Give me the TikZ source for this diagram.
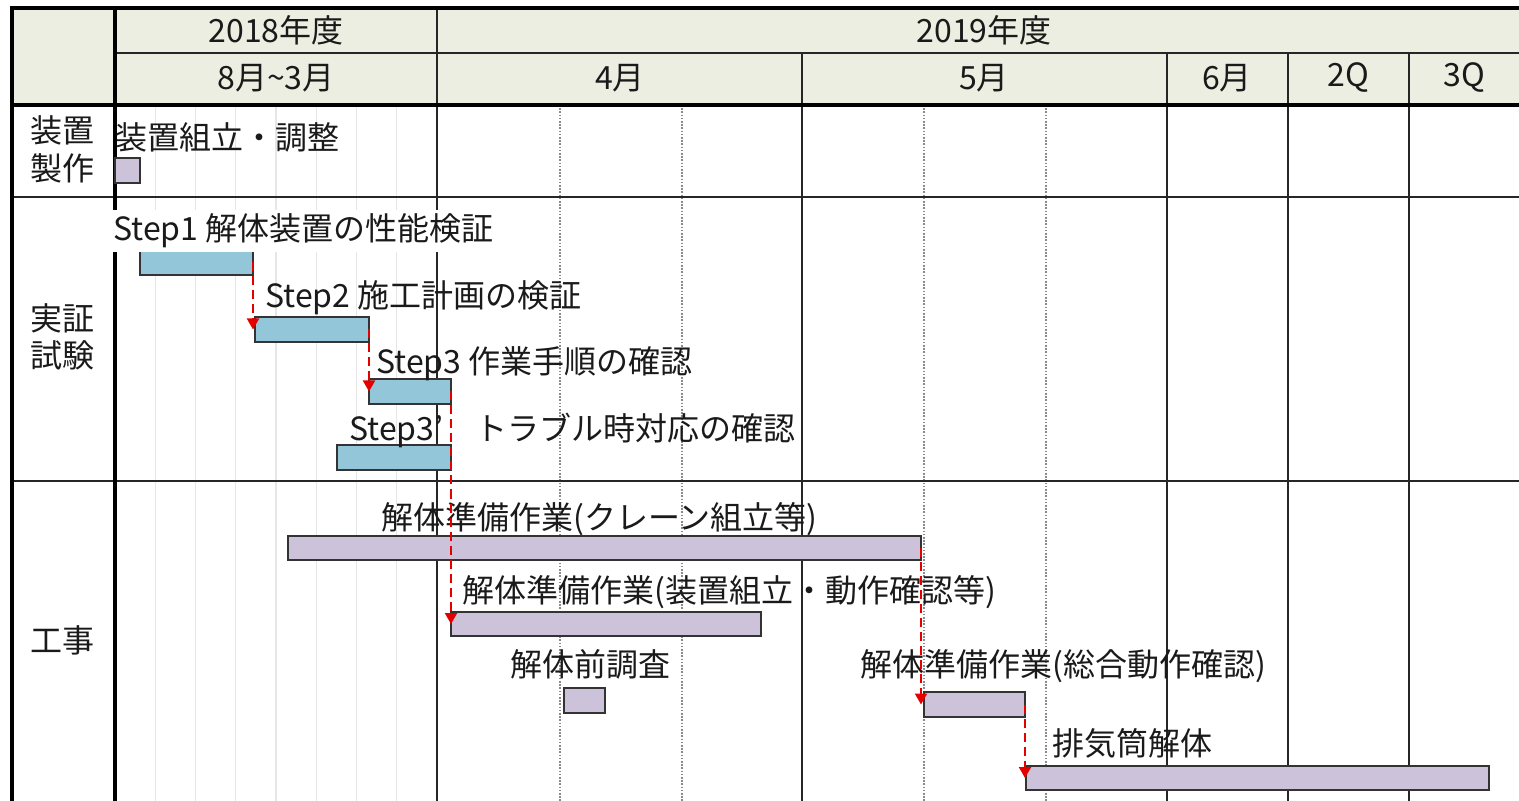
\documentclass[tikz,border=0pt]{standalone}
\usepackage{fontspec}
\setmainfont{Noto Sans CJK JP}
\usetikzlibrary{arrows.meta}
\definecolor{hdrfill}{HTML}{EBEEE0}
\definecolor{lav}{HTML}{CCC3DB}
\definecolor{aqua}{HTML}{92C6D8}
\definecolor{faint}{HTML}{E6E6E6}
\definecolor{dotg}{HTML}{8A8A8A}
\definecolor{txt}{HTML}{1A1A1A}
\newcommand{\ganttbar}[6]{%
  \node[#6, anchor=north west, minimum width={(#4-#2)*0.5pt}, minimum height={(#5-#3)*0.5pt}] (#1) at (#2,#3) {};}
\begin{document}
\begin{tikzpicture}[x=0.5pt,y=-0.5pt,
  thick line/.style={line width=2pt, black},
  thin line/.style={line width=1pt, black!85},
  lbl/.style={inner sep=0pt, text=txt, font=\fontsize{16}{19}\selectfont},
  barbox/.style={draw=black!80, line width=0.9pt, inner sep=0pt, outer sep=0pt},
  barP/.style={barbox, fill=lav},
  barB/.style={barbox, fill=aqua},
  dep/.style={red!90!black, line width=1pt, dash pattern=on 4.5pt off 2.5pt,
    -{Triangle[width=6pt,length=5.5pt]}}]
\useasboundingbox (0,0) rectangle (1519,801);
% header fills
\fill[hdrfill] (12,8) rectangle (1519,105);
% faint lines in 2018 column
\foreach \i in {1,...,7} {
  \draw[faint, line width=0.6pt] ({115+\i*40.25},105) -- ({115+\i*40.25},801);
}
% dotted week lines
\foreach \xx in {560,682,924,1046} {
  \draw[dotg, line width=0.7pt, dash pattern=on 0.8pt off 0.8pt] (\xx,105) -- (\xx,801);
}
% grid
\draw[thin line] (115,53) -- (1519,53);
\draw[thin line] (12,197) -- (1519,197);
\draw[thin line] (12,481) -- (1519,481);
\draw[thin line] (437,8) -- (437,801);
\foreach \xx in {802,1167,1288,1409} { \draw[thin line] (\xx,53) -- (\xx,801); }
\draw[thick line] (10,8) -- (1519,8);
\draw[thick line] (12,6) -- (12,801);
\draw[thick line] (115,6) -- (115,801);
\draw[thick line] (12,105) -- (1519,105);
% header text
\node[lbl] (y2018) at (276,30) {2018年度};
\node[lbl] (y2019) at (984,30) {2019年度};
\node[lbl] (m83) at (276,78) {8月\textasciitilde 3月};
\node[lbl] (m4) at (620,78) {4月};
\node[lbl] (m5) at (984,78) {5月};
\node[lbl] (m6) at (1227,78) {6月};
\node[lbl] (q2) at (1348,78) {2Q};
\node[lbl] (q3) at (1464,78) {3Q};
% row labels
\node[lbl] (r1a) at (62,130) {装置};
\node[lbl] (r1b) at (62,168) {製作};
\node[lbl] (r2a) at (62,318) {実証};
\node[lbl] (r2b) at (62,355) {試験};
\node[lbl] (r3) at (62,640) {工事};
% bars
\ganttbar{b0}{115}{158}{140}{183}{barP}
\ganttbar{s1}{140}{250}{253}{275}{barB}
\ganttbar{s2}{255}{317}{369}{342}{barB}
\ganttbar{s3}{369}{379}{451}{404}{barB}
\ganttbar{s3b}{337}{445}{451}{470}{barB}
\ganttbar{k1}{288}{536}{921}{560}{barP}
\ganttbar{k2}{451}{612}{761}{636}{barP}
\ganttbar{k3}{564}{688}{605}{713}{barP}
\ganttbar{k4}{924}{692}{1025}{717}{barP}
\ganttbar{k5}{1026}{766}{1489}{790}{barP}
% labels
\node[lbl, anchor=west] (l0) at (115,137) {装置組立・調整};
\node[lbl, anchor=west, fill=white, inner ysep=2pt] (l1) at (113,231) {Step1 解体装置の性能検証};
\node[lbl, anchor=west] (l2) at (265,298) {Step2 施工計画の検証};
\node[lbl, anchor=west] (l3) at (376,364) {Step3 作業手順の確認};
\node[lbl, anchor=west] (l3b) at (349,430) {Step3’　トラブル時対応の確認};
\node[lbl, anchor=west] (lk1) at (381,519) {解体準備作業(クレーン組立等)};
\node[lbl, anchor=west] (lk2) at (462,592) {解体準備作業(装置組立・動作確認等)};
\node[lbl, anchor=west] (lk3) at (510,664) {解体前調査};
\node[lbl, anchor=west] (lk4) at (860,666) {解体準備作業(総合動作確認)};
\node[lbl, anchor=west] (lk5) at (1052,743) {排気筒解体};
% dependencies
\draw[dep] (s1.east) -- (s1.east |- s2.west);
\draw[dep] (s2.east) -- (s2.east |- s3.west);
\draw[dep] (s3.east) -- (s3.east |- k2.west);
\draw[dep] (k1.east) -- (k1.east |- k4.west);
\draw[dep] (k4.east) -- (k4.east |- k5.west);
\end{tikzpicture}
\end{document}
